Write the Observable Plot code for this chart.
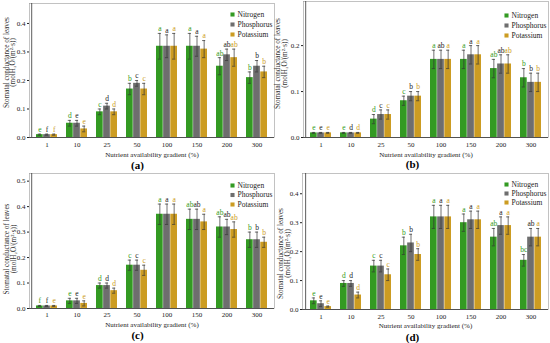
<!DOCTYPE html>
<html>
<head>
<meta charset="utf-8">
<script src="https://cdn.jsdelivr.net/npm/d3@7"></script>
<script src="https://cdn.jsdelivr.net/npm/@observablehq/plot@0.6"></script>
<style>
  html, body { margin: 0; padding: 0; background: #fff; }
  #root { position: relative; width: 550px; height: 343px; overflow: hidden; font-family: "Liberation Serif", serif; }
  .panel { position: absolute; width: 275px; height: 172px; }
  .panel svg { overflow: visible; }
  .panel svg, .panel svg text { font-family: "Liberation Serif", "DejaVu Serif", serif !important; }
  .cap { position: absolute; left: 0; width: 275px; text-align: center; font-weight: bold; font-size: 11px; line-height: 11px; font-family: "Liberation Serif", serif; }
</style>
</head>
<body>
<div id="root"></div>
<script>
const gradients = ["1", "10", "25", "50", "100", "150", "200", "300"];
const series = ["Nitrogen", "Phosphorus", "Potassium"];
const colors = ["#339a22", "#6e6e6e", "#cc9c22"];
const letterColors = ["#339a22", "#222222", "#cc9c22"];

// Panel (a)
const aN = [0.01, 0.05, 0.09, 0.17, 0.32, 0.32, 0.25, 0.21];
const aP = [0.01, 0.05, 0.11, 0.19, 0.32, 0.32, 0.29, 0.25];
const aK = [0.01, 0.03, 0.09, 0.17, 0.32, 0.31, 0.28, 0.23];
const aNe = [0.002, 0.01, 0.01, 0.02, 0.045, 0.045, 0.03, 0.02];
const aPe = [0.002, 0.01, 0.01, 0.01, 0.04, 0.035, 0.02, 0.02];
const aKe = [0.002, 0.01, 0.01, 0.02, 0.045, 0.03, 0.03, 0.02];
const aNl = ["e", "d", "c", "b", "a", "a", "ab", "b"];
const aPl = ["f", "e", "d", "c", "a", "a", "ab", "b"];
const aKl = ["f", "e", "d", "c", "a", "a", "ab", "b"];

// Panel (b)
const bN = [0.01, 0.01, 0.04, 0.08, 0.17, 0.17, 0.15, 0.13];
const bP = [0.01, 0.01, 0.05, 0.09, 0.17, 0.18, 0.16, 0.12];
const bK = [0.01, 0.01, 0.05, 0.09, 0.17, 0.18, 0.16, 0.12];
const bNe = [0.001, 0.001, 0.01, 0.01, 0.02, 0.02, 0.02, 0.02];
const bPe = [0.001, 0.001, 0.01, 0.01, 0.02, 0.02, 0.02, 0.02];
const bKe = [0.001, 0.001, 0.01, 0.01, 0.02, 0.02, 0.02, 0.02];
const bNl = ["e", "e", "d", "c", "a", "a", "ab", "b"];
const bPl = ["e", "d", "c", "b", "ab", "a", "ab", "b"];
const bKl = ["e", "d", "c", "b", "a", "a", "ab", "b"];

// Panel (c)
const cN = [0.01, 0.03, 0.09, 0.17, 0.37, 0.35, 0.32, 0.27];
const cP = [0.01, 0.03, 0.09, 0.17, 0.37, 0.35, 0.32, 0.27];
const cK = [0.01, 0.02, 0.07, 0.15, 0.37, 0.34, 0.31, 0.26];
const cNe = [0.002, 0.01, 0.01, 0.02, 0.04, 0.04, 0.04, 0.03];
const cPe = [0.002, 0.01, 0.01, 0.02, 0.04, 0.04, 0.03, 0.03];
const cKe = [0.002, 0.01, 0.01, 0.02, 0.04, 0.03, 0.03, 0.02];
const cNl = ["f", "e", "d", "c", "a", "ab", "ab", "b"];
const cPl = ["f", "e", "d", "c", "a", "ab", "ab", "b"];
const cKl = ["e", "e", "d", "c", "a", "a", "ab", "b"];

// Panel (d)
const dN = [0.03, 0.09, 0.15, 0.22, 0.32, 0.30, 0.25, 0.17];
const dP = [0.02, 0.09, 0.15, 0.23, 0.32, 0.31, 0.29, 0.25];
const dK = [0.01, 0.05, 0.12, 0.19, 0.32, 0.31, 0.29, 0.25];
const dNe = [0.01, 0.01, 0.02, 0.03, 0.04, 0.03, 0.03, 0.02];
const dPe = [0.01, 0.01, 0.02, 0.03, 0.04, 0.03, 0.03, 0.03];
const dKe = [0.002, 0.01, 0.02, 0.02, 0.04, 0.03, 0.03, 0.03];
const dNl = ["e", "d", "c", "b", "a", "a", "ab", "bc"];
const dPl = ["e", "d", "c", "b", "a", "a", "a", "ab"];
const dKl = ["e", "d", "c", "b", "a", "a", "a", "a"];

const yTitle = "Stomatal conductance of leaves\n(molH\u2082O/(m\u00B2\u00B7s))";
const xTitle = "Nutrient availability gradient (%)";
const FONT = "Liberation Serif";

const panels = [
  {id: "(a)", left: 0, top: 0, vals: [aN, aP, aK], errs: [aNe, aPe, aKe], lets: [aNl, aPl, aKl],
   ymax: 0.47, ticks: [0, 0.1, 0.2, 0.3, 0.4], mt: 3, mb: 23, ml: 29, mr: 1, h: 160,
   legTop: 11, legStep: 10, tickPad: 5, titleDy: 17, capTop: 160, yDx: -19.5, yDy: -8},
  {id: "(b)", left: 275, top: 0, vals: [bN, bP, bK], errs: [bNe, bPe, bKe], lets: [bNl, bPl, bKl],
   ymax: 0.296, ticks: [0, 0.1, 0.2], mt: 1, mb: 23, ml: 28, mr: 2, h: 160,
   legTop: 14, legStep: 10, tickPad: 5, titleDy: 17, capTop: 158.5, yDx: -22, yDy: -6},
  {id: "(c)", left: 0, top: 172, vals: [cN, cP, cK], errs: [cNe, cPe, cKe], lets: [cNl, cPl, cKl],
   ymax: 0.53, ticks: [0, 0.1, 0.2, 0.3, 0.4, 0.5], mt: 1, mb: 23, ml: 29, mr: 1, h: 159,
   legTop: 12, legStep: 9.5, tickPad: 4, titleDy: 16, capTop: 157.5, yDx: -19, yDy: 8},
  {id: "(d)", left: 275, top: 172, vals: [dN, dP, dK], errs: [dNe, dPe, dKe], lets: [dNl, dPl, dKl],
   ymax: 0.47, ticks: [0, 0.1, 0.2, 0.3, 0.4], mt: 1, mb: 23, ml: 27, mr: 2, h: 160,
   legTop: 11, legStep: 9, tickPad: 5, titleDy: 16.5, capTop: 159.5, yDx: -18, yDy: 12}
];

const W = 275;
const pInner = 0.3, pOuter = 0.15;
const root = document.getElementById("root");

for (const p of panels) {
  const inner = W - p.ml - p.mr;
  const step = inner / (gradients.length - pInner + 2 * pOuter);
  const bw = step * (1 - pInner);
  const sub = bw / 3;
  const marks = [];
  series.forEach((s, i) => {
    const data = gradients.map((g, j) => ({g, v: p.vals[i][j], e: p.errs[i][j], l: p.lets[i][j]}));
    marks.push(Plot.barY(data, {x: "g", y: "v", fill: colors[i], insetLeft: i * sub, insetRight: (2 - i) * sub}));
    const dx = (i - 1) * sub;
    marks.push(Plot.ruleX(data, {x: "g", y1: d => d.v - d.e, y2: d => d.v + d.e, dx, stroke: "#333", strokeWidth: 0.7}));
    const capL = i * sub + sub / 2 - 1.8;
    const capR = bw - capL - 3.6;
    marks.push(Plot.tickY(data, {x: "g", y: d => d.v + d.e, insetLeft: capL, insetRight: capR, stroke: "#333", strokeWidth: 0.7}));
    marks.push(Plot.tickY(data, {x: "g", y: d => d.v - d.e, insetLeft: capL, insetRight: capR, stroke: "#333", strokeWidth: 0.7}));
    marks.push(Plot.text(data, {x: "g", y: d => d.v + d.e, text: "l", dx, dy: -4.5, fill: letterColors[i], fontSize: 7.5, fontFamily: FONT}));
    // legend item
    marks.push(Plot.dot([s], {frameAnchor: "top-right", dx: -42, dy: p.legTop + i * p.legStep, symbol: "square", r: 2.3, fill: colors[i], stroke: "none"}));
    marks.push(Plot.text([s], {frameAnchor: "top-right", dx: -37, dy: p.legTop + i * p.legStep, text: d => d, textAnchor: "start", lineAnchor: "middle", fontSize: 7.5, fill: "#222", fontFamily: FONT}));
  });
  marks.push(Plot.frame({stroke: "#999", strokeWidth: 0.6}));
  marks.push(Plot.ruleY([0], {stroke: "#333", strokeWidth: 0.8}));
  marks.push(Plot.ruleX([gradients[0]], {stroke: "#333", strokeWidth: 0.8, dx: -bw / 2 - step * pOuter}));
  marks.push(Plot.text([yTitle], {frameAnchor: "left", dx: p.yDx, dy: p.yDy, rotate: -90, text: d => d, textAnchor: "middle", lineAnchor: "middle", fontSize: 7.2, lineHeight: 0.9, fill: "#333", fontFamily: FONT}));
  marks.push(Plot.text([xTitle], {frameAnchor: "bottom", dy: p.titleDy, text: d => d, textAnchor: "middle", lineAnchor: "middle", fontSize: 7, fill: "#222", fontFamily: FONT}));

  const chart = Plot.plot({
    width: W,
    height: p.h,
    marginTop: p.mt,
    marginBottom: p.mb,
    marginLeft: p.ml,
    marginRight: p.mr,
    style: {fontFamily: "'Liberation Serif', serif", fontSize: "7px", background: "transparent", color: "#222", overflow: "visible"},
    x: {domain: gradients, paddingInner: pInner, paddingOuter: pOuter, tickSize: 0, tickPadding: p.tickPad, label: null},
    y: {domain: [0, p.ymax], ticks: p.ticks, tickFormat: d3.format(".1f"), tickSize: 2, tickPadding: 2, label: null},
    marks
  });

  const div = document.createElement("div");
  div.className = "panel";
  div.style.left = p.left + "px";
  div.style.top = p.top + "px";
  div.appendChild(chart);
  const cap = document.createElement("div");
  cap.className = "cap";
  cap.style.top = p.capTop + "px";
  cap.textContent = p.id;
  div.appendChild(cap);
  root.appendChild(div);
}
</script>
</body>
</html>
